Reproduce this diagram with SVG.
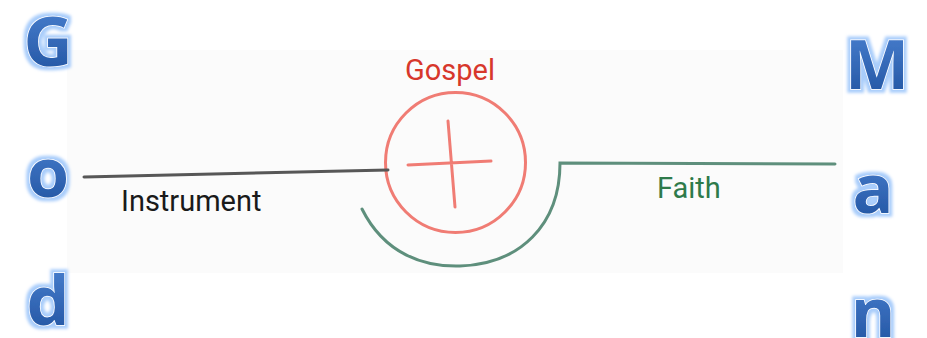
<svg xmlns="http://www.w3.org/2000/svg" width="927" height="338" viewBox="0 0 927 338">
<defs>
<linearGradient id="blue" x1="0" y1="0" x2="0" y2="1">
<stop offset="0" stop-color="#4f86d6"/>
<stop offset="1" stop-color="#1d4f9c"/>
</linearGradient>
<filter id="glow" x="-30%" y="-30%" width="160%" height="160%">
<feMorphology in="SourceAlpha" operator="dilate" radius="2.5" result="d"/>
<feGaussianBlur in="d" stdDeviation="1.8" result="b"/>
<feFlood flood-color="#a9cdfb"/>
<feComposite in2="b" operator="in" result="g"/>
<feMerge><feMergeNode in="g"/><feMergeNode in="SourceGraphic"/></feMerge>
</filter>
<style>
.big{font-family:"Open Sans","Liberation Sans",sans-serif;font-weight:700;font-size:68px;fill:url(#blue);stroke:#ffffff;stroke-width:1.5;paint-order:stroke;text-anchor:middle;filter:url(#glow)}
.lbl{font-family:Roboto,"Liberation Sans",sans-serif;font-size:29px}
.ln{fill:none;stroke-width:3;stroke-linecap:round}
</style>
</defs>
<rect x="67" y="50" width="776" height="223" fill="#fbfbfb"/>
<g id="God">
<text class="big" x="48" y="66">G</text>
<text class="big" x="48" y="197">o</text>
<text class="big" x="48" y="325">d</text>
</g>
<g id="Man">
<text class="big" x="877" y="89">M</text>
<text class="big" x="873" y="213">a</text>
<text class="big" x="873" y="337">n</text>
</g>
<g id="gospel">
<circle cx="455.5" cy="162.5" r="70" fill="none" stroke="#f07c74" stroke-width="3"/>
<path class="ln" d="M448 121 L455 207 M408 165 L491 161" stroke="#f07c74"/>
<text class="lbl" x="450" y="80" fill="#d7372b" text-anchor="middle">Gospel</text>
</g>
<g id="connectors">
<path class="ln" d="M84 177 L388 170" stroke="#575757"/>
<path class="ln" d="M362 209 C 385 255 425 267 460 266 C 520 264 560 225 560 163 L 835 164" stroke="#5e8f7c"/>
</g>
<g id="labels">
<text class="lbl" x="121" y="211" fill="#1a1a1a">Instrument</text>
<text class="lbl" x="657" y="198" fill="#2e7a4a">Faith</text>
</g>
</svg>
